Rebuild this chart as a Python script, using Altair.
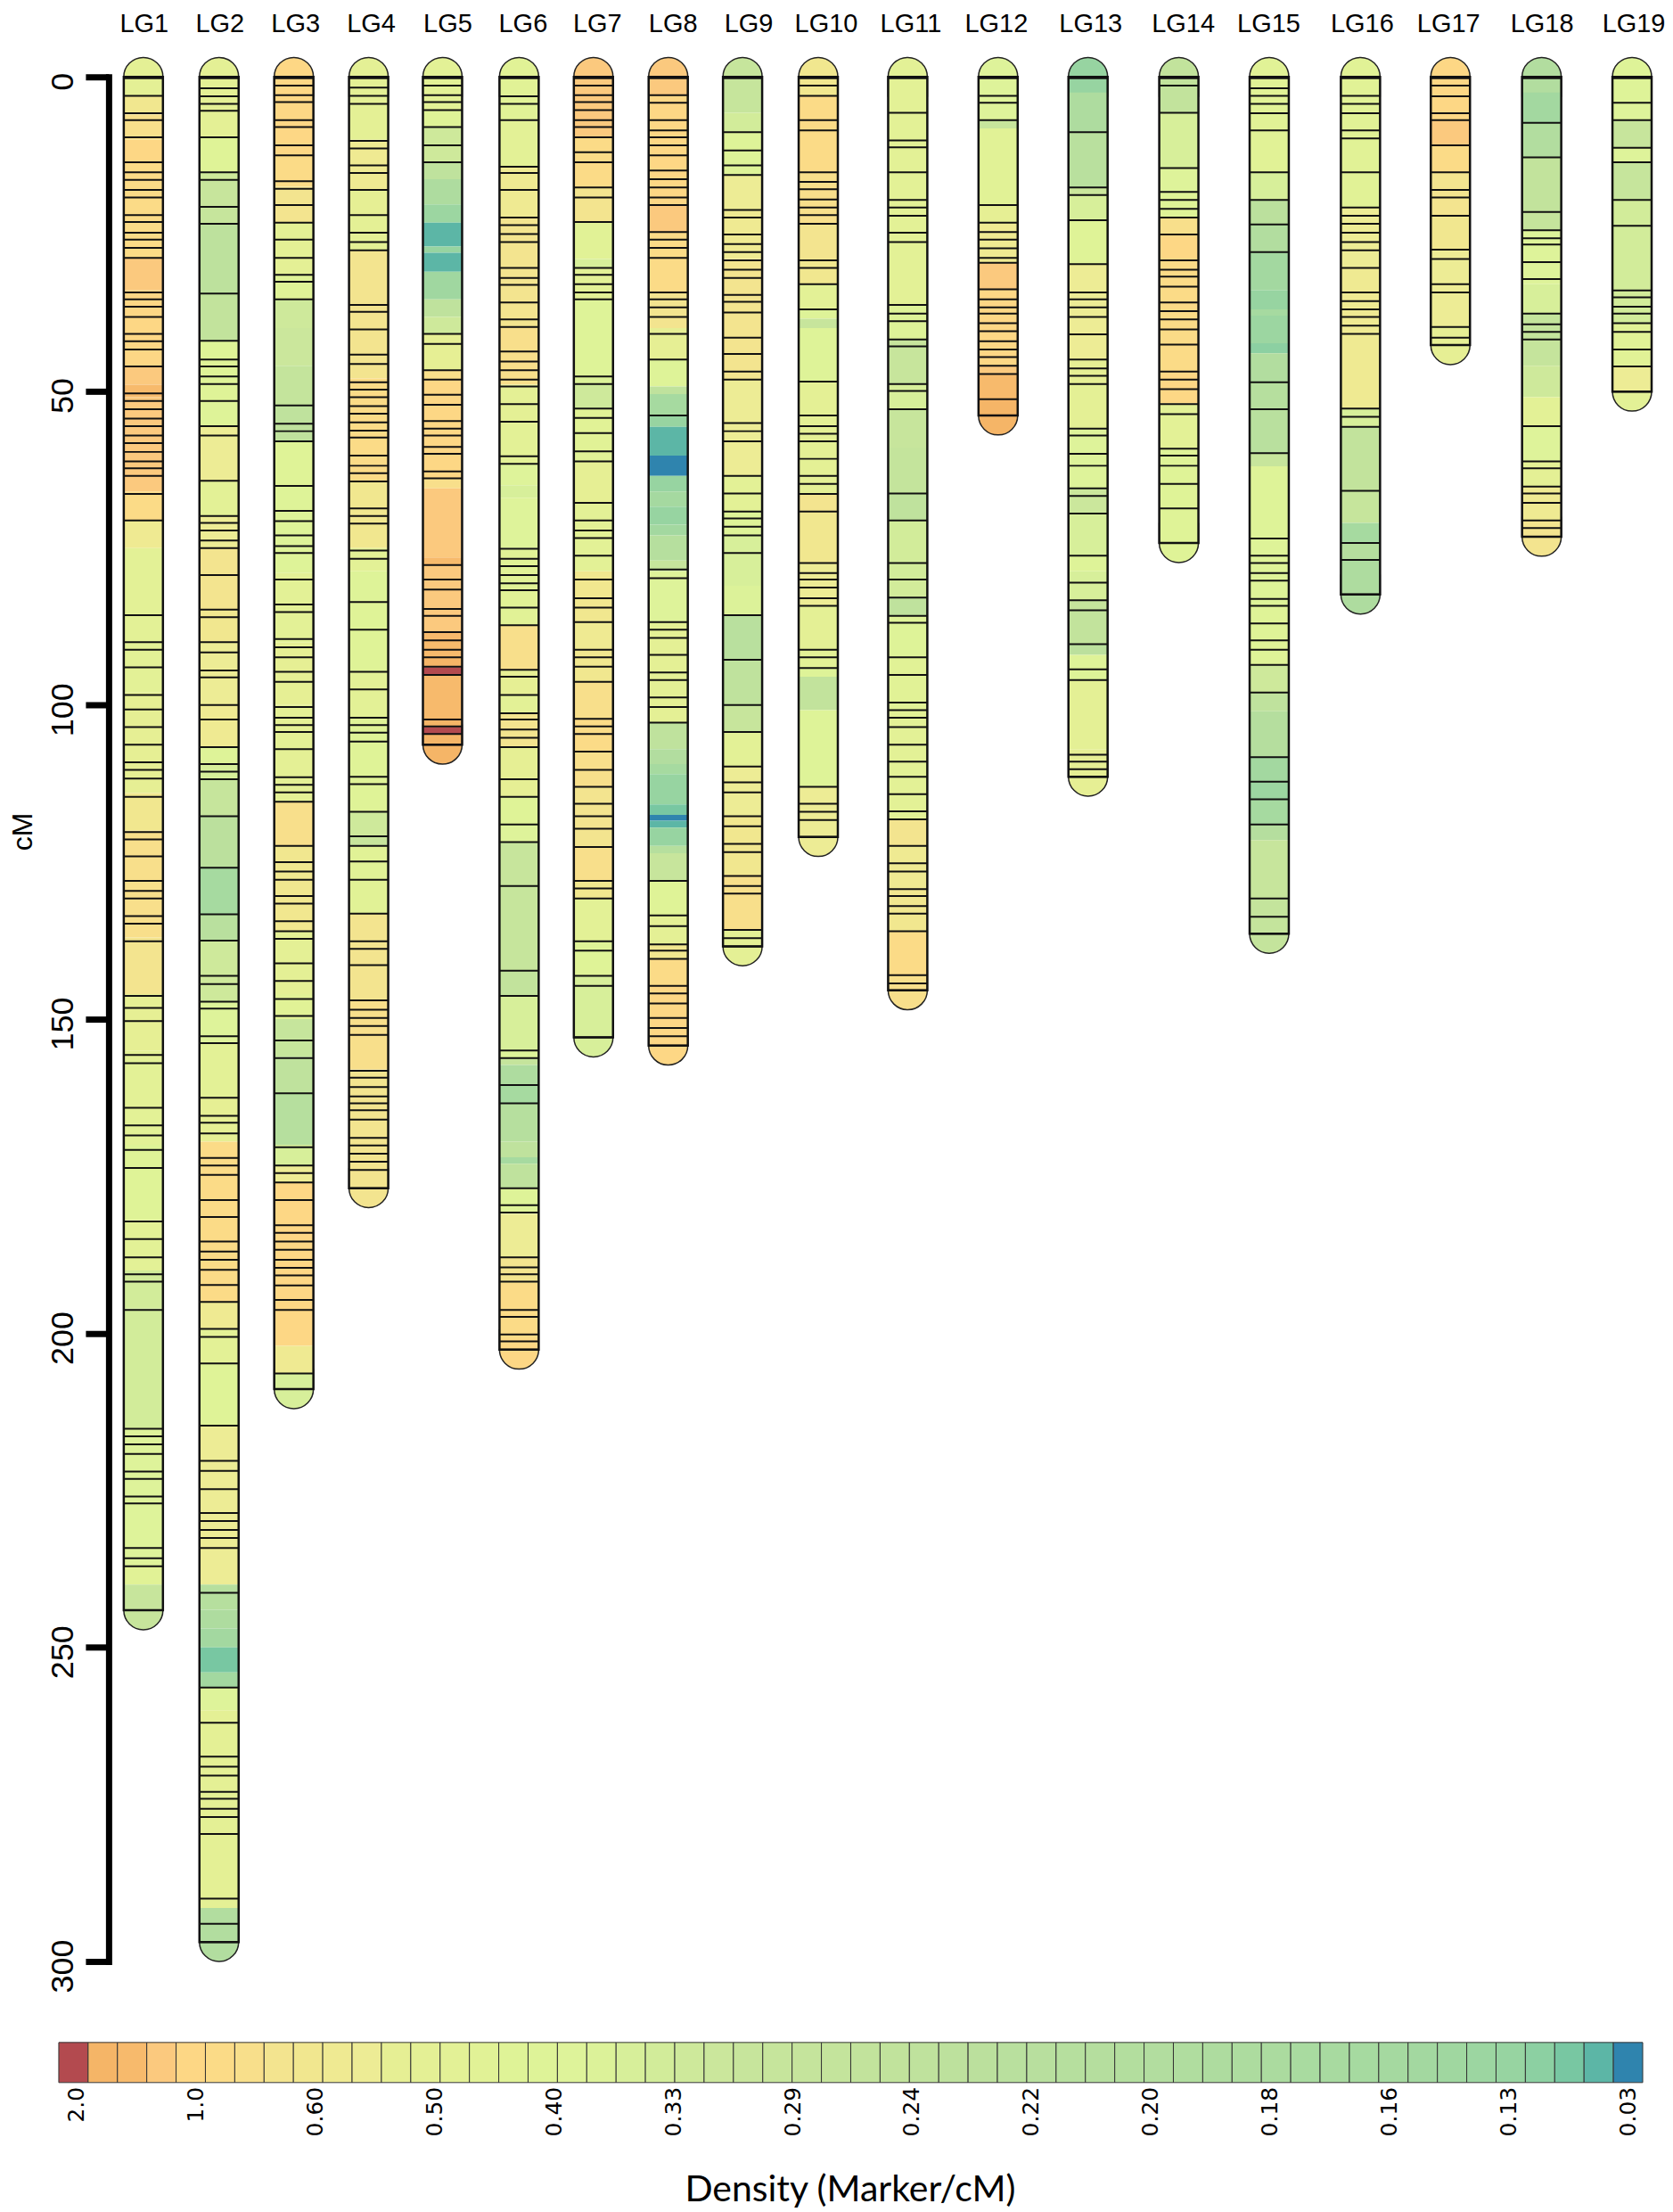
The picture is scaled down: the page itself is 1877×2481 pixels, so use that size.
import altair as alt
import pandas as pd

LG_NAMES = ["LG%d" % i for i in range(1, 20)]

MARKERS = {
 1: [0.2,3.0,5.8,6.9,9.6,13.6,15.2,16.4,18.0,19.2,22.0,23.1,24.8,25.9,27.2,28.8,34.3,35.4,36.6,38.2,40.9,42.1,43.4,46.1,50.4,51.6,52.9,54.4,55.6,57.1,58.3,59.7,61.2,62.3,63.5,66.4,70.6,85.7,90,91.2,94,98.4,100.7,103.5,106.3,109.1,110.3,111.7,114.6,120.2,121.4,124.1,128,129.6,130.8,133.6,134.8,137.6,146.3,148.2,150.3,155.7,157,164.1,166.9,168.5,170.8,173.7,182.2,185,187.9,190.6,191.8,196.3,215.2,216.4,217.7,219.2,222,223.2,226,227.1,234.2,235.8,237.1,244.1],
 2: [0.2,1.8,3.1,4.3,5.4,9.6,15.2,16.4,20.7,23.4,34.5,42,45,46.1,47.7,48.9,51.6,55.6,57.1,64.3,69.9,71,72.2,73.8,75,79.3,84.8,86,90,91.6,94.5,95.6,100,102.3,106.7,109.4,110.6,111.8,117.7,125.9,133.3,137.5,143.1,144.4,147.2,148.3,152.7,153.8,162.5,165.4,166.5,168.2,172.1,173.3,174.8,178.8,181.5,185.4,187,188.3,189.9,192.3,195,199.3,200.6,204.8,214.7,220.3,221.9,224.8,228.6,229.9,231.3,232.6,234.2,241.3,256.4,262,267.4,269,270.4,273,274.1,275.7,277,279.7,290,294,296.9],
 3: [0.2,1.4,2.9,4,6.9,8,10.9,12.5,16.6,17.8,20.4,23.2,25.9,28.8,31.5,32.6,35.4,52.3,55.2,56.4,58,65.1,69.1,70.7,73,74.7,75.8,80,84,85.2,89.5,90.8,92.4,94.7,96.3,100.3,102,103.2,104.3,107,111.5,112.7,113.9,115.4,122.4,125,126.5,127.8,130.4,131.6,134.4,136,137.2,141.1,143.9,146.8,149.5,153.4,156.2,161.8,170.4,173.3,174.5,176,178.8,182.8,184,185.4,186.7,188.3,189.6,190.8,192.4,194.7,196.3,206.4,208.9],
 4: [0.2,1.7,3,4.3,10.2,11.4,14.1,15.3,18,22,24.8,26.3,27.6,36.3,37.4,40.2,44.2,45.7,48.6,49.8,51,52.4,53.6,55,56.3,57.4,60.3,61.9,63.1,64.4,68.7,69.9,71.1,75.4,76.7,83.6,88,94.7,97.5,102,103.2,104.4,105.8,111.4,112.6,117,120.9,122.4,124.9,127.8,133.2,137.6,138.8,141.4,147,148.5,149.8,151.1,152.5,158.2,159.3,160.8,162.3,163.4,164.5,166,168.9,170.1,171.4,172.7,174,176.9],
 5: [0.2,1.4,2.9,4,5.3,8,10.9,13.6,40.9,42.5,46.7,48.2,50.6,52.2,54.8,56,57.1,58.9,60,62.8,63.9,77.7,80,81.6,84.7,85.8,88.4,89.7,91.2,92.4,93.9,95.2,102.3,103.4,104.6,106.3],
 6: [0.2,3.1,4.3,6.9,14.3,15.3,18,22.4,23.6,25,26.3,30.4,32,33.1,35.9,38.6,39.8,43.7,45.3,46.7,48.2,49.3,52.1,54.9,60.4,61.6,75.1,76.7,77.9,79.3,80.6,81.7,84.5,87.3,94.4,95.5,98.4,101.3,102.3,103.9,105.2,106.7,111.8,114.6,119,121.8,128.8,142.3,146.3,155,156.2,160.5,163.4,176.9,179.6,180.8,187.9,189.5,190.6,191.8,196.3,197.4,200.2,201.3,202.6],
 7: [0.2,1.4,2.9,4,5.3,6.9,8,9.6,12,13.6,17.6,19.2,23.1,30.4,31.5,33,34.3,35.4,47.7,48.9,52.8,54.3,56.7,59.6,61.2,67.8,70.6,72.2,73.4,76.2,80,83,84.5,86.8,91.2,92.4,93.9,96.3,102.2,103.4,104.6,107.4,110.3,113,115.7,117.7,119.7,122.6,128,129.2,130.8,137.6,139.1,143.1,144.7,152.9],
 8: [0.2,2.9,4.1,6.9,8.5,9.6,10.9,12.5,14.9,16.3,17.6,19.2,20.4,24.7,25.9,27.2,28.8,34.3,35.4,36.7,38.2,40.9,45,53.9,78.4,79.8,86.8,88,89.3,92,94.8,96,98.8,100.3,102.8,128,133.5,135.2,138.1,139.1,140.4,144.7,145.9,147.5,149.8,151.4,152.7,154.2],
 9: [0.2,8.8,11.7,14.1,15.6,21.2,22.4,25.1,26.6,27.9,29.2,30.7,32,34.7,35.8,37.5,41.5,44.1,46.9,48.2,55.1,56.4,58,63.5,66.3,69.2,70.3,71.6,73,75.8,85.7,92.8,100,104.3,109.8,112.3,113.9,117.7,119.3,122.1,123.4,127.2,128.8,130,135.8,137.1,138.4],
 10: [0.2,1.4,3,6.9,8.5,15.2,16.7,17.9,19.5,20.8,22,23.4,29.2,30.4,33,37,48.5,53.9,55.6,56.8,58,60.8,63.5,64.8,66.4,69.2,77.4,79,80,81.3,83,84.2,91.2,92.4,94.1,113,115.7,117,118.3,121],
 11: [0.2,5.7,10.1,11.2,15.2,19.6,20.8,22.1,24.8,26.3,36.3,37.7,38.9,41.8,42.9,48.9,50,52.9,66.3,70.6,77.4,80,82.9,85.8,86.9,92.4,95.2,99.6,100.8,102,103.5,106.3,109,111.4,114.2,116.9,118.2,122.4,125.2,126.5,129.3,130.4,132,133.2,136,143,144.3,145.4],
 12: [0.2,3,4.1,6.9,20.4,23.2,24.7,25.9,27.3,28.8,29.6,33.8,35.4,36.7,37.7,39.2,40.5,42.1,43.4,44.6,46,47.3,51.3,53.9],
 13: [0.2,8.8,17.6,18.8,22.8,29.8,34.3,35.4,36.7,38.2,41,45,46.4,47.6,48.9,56,57.1,60,61.9,65.5,66.7,69.5,76.2,80.5,83.3,84.9,90.3,94.3,96,107.9,109,110.2,111.4],
 14: [0.2,1.4,5.7,14.5,18.3,19.6,21,22.4,25.1,29.2,30.7,31.8,33.4,35.9,37.3,38.6,40.2,42.6,46.9,48.2,49.7,52.1,53.7,59.2,60.3,61.9,64.8,68.7,74.2],
 15: [0.2,1.8,3,4.3,5.8,8.5,15.2,19.6,23.5,27.9,48.6,52.9,59.9,73.5,76.2,77.4,79,80.2,83.1,84.2,87,89.7,91.2,93.6,98,108.3,112.2,115,119,130.8,133.7,136.4],
 16: [0.2,3,4.3,5.8,8.5,9.8,15.2,20.8,22.1,23.4,24.8,26.3,27.6,30.4,34.3,35.7,37,38.2,39.6,40.9,52.8,54.1,55.7,65.9,74.2,76.9,82.4],
 17: [0.2,1.4,3.1,5.8,6.9,10.9,15.2,18,19.2,22.1,27.5,29,33,34.3,39.8,41.5,42.7],
 18: [0.2,7.3,12.8,21.5,24.4,25.7,26.7,29.5,32.2,37.7,39.4,40.6,41.8,55.6,61.2,62.3,65.2,66.3,67.8,70.6,71.8,73.2],
 19: [0.2,4.1,6.9,11.3,13.6,19.6,23.7,34,35.1,36.6,37.7,39.2,40.6,43.4,46.1,50.1],
}

# density zones: start cM of each zone, and the legend step it falls in
ZONE_START = {
 1: [0,3,6,10,13.6,28.8,34,46,49,51,66,70.6,75,98,114,120,137,146,155,170,182,190,196,215,237,240],
 2: [0,9.6,15.2,16.4,20.7,23.4,34.5,42,51.6,55.6,64.3,69.9,75,84.8,90,100,106.7,109.4,111.8,117.7,125.9,133.3,137.5,147.2,153.8,162.5,169.5,195,199.3,204.8,214.7,240,244,247,250,254,256.4,260,291.5],
 3: [0,12.5,17.5,23.2,31.5,35.4,40,46,52.3,58,65,79,90,100,115.4,122.4,136,146,150,156,161.8,170,173.3,176,202,206.4],
 4: [0,10,18,22,27.6,48,64.4,75,78.7,83.6,94.7,102,117,121,122.4,133.2,147,158],
 5: [0,5.3,8,13.6,16.3,20.3,23.2,27,28,31,35.4,38.2,40.9,46.7,48.2,63.9,65.5,76.5,77.7,88.4,92.5,94,95.2,102,103.5,104.6],
 6: [0,7,14.3,22.4,40,49,55,61.6,65,67,75,87.3,94.4,98.4,101.3,106.7,114.6,119,121.8,128.8,142.3,146.3,155,156.2,157.3,160.5,163.4,169.5,172,173,176.9,181,187.9,192,201],
 7: [0,9.6,17.6,23.1,29,30.4,35.4,47.7,48.9,52.8,61.2,67.8,78.7,86.8,91.2,96.3,102.2,107.4,113,122.6,128,130.8,137.6,143.1],
 8: [0,2.9,20.4,24.7,34.3,40,45,49.3,50.5,53.9,55.7,60.3,63.5,66,68.4,71.3,73,77,78.7,86.8,102.8,107,109.4,111,115.8,117.5,118.4,119.5,122.4,123.6,128,133.5,138.1,140.4,144.7],
 9: [0,5.7,8.8,15.6,21.2,29,48.2,63.5,69.2,73,81,85.7,92.8,100,104.3,109.8,117.7,127,135.8],
 10: [0,3,15.2,23.4,29.2,33,37,38.5,40,48.5,66.4,69.2,77.4,84.2,91.2,94.1,95.5,100.8,113],
 11: [0,36.3,41.8,48.9,52.9,59,66.3,70.6,82.9,85.8,92.4,100.8,118.2,122.4,129.3,136,143],
 12: [0,6.9,8.2,20.4,23.2,29.6,33.8,46,47.3,51.3],
 13: [0,2.5,8.8,17.6,18.8,22.8,29.8,45,48.9,56,65.5,69.5,76.2,78.7,83.3,84.9,90.3,92,96,107],
 14: [0,5.7,14.5,18.3,22.4,25.1,29.2,46.9,52,59.2],
 15: [0,15.2,19.6,23.5,27.9,34,37,38,42.4,44,48.6,52.9,59.9,62,84,93.6,98,101,108.3,112.2,115,119,121.5,130.8],
 16: [0,20.8,30.4,52.8,55.7,65.9,71,74.2,76.9],
 17: [0,6.9,10.9,15.2,22.1,27.5,39.8],
 18: [0,2.5,7.3,12.8,21.5,24.4,33,37.7,41.8,46,51,55.6,61.2,65.2,70.6],
 19: [0,4.1,6.9,11.3,13.6,19.6,39.2,46.1,50.1],
}
ZONE_STEP = {
 1: [13,9,7,5,6,4,5,4,3,4,6,10,14,12,9,7,8,12,14,16,14,21,21,18,15,24],
 2: [13,16,22,24,25,31,28,16,17,11,14,11,8,9,11,10,17,20,25,32,45,33,22,18,14,12,6,10,14,16,11,35,40,47,52,47,18,13,38],
 3: [5,6,8,13,16,22,23,27,30,16,17,14,12,13,7,9,13,15,25,30,35,20,11,5,10,20],
 4: [13,10,12,13,8,6,9,14,17,16,14,16,22,24,15,8,7,8],
 5: [14,16,22,30,40,49,53,50,53,48,30,22,12,7,5,7,4,3,4,3,2,1,3,2,1,2],
 6: [15,14,10,8,7,13,14,18,20,18,15,7,12,14,8,12,16,18,24,25,28,20,18,26,40,45,35,30,45,30,17,11,8,6,5],
 7: [4,6,8,15,20,14,17,19,22,15,12,14,9,10,9,7,6,7,8,7,9,14,16,20],
 8: [4,5,4,6,8,12,17,30,45,50,53,54,50,46,50,47,35,25,18,13,30,38,45,50,52,54,53,50,35,24,16,13,9,6,5],
 9: [25,21,17,11,10,8,11,14,17,20,19,33,30,24,14,11,9,7,13],
 10: [9,6,7,8,9,14,17,24,17,13,8,9,11,13,14,17,28,17,11],
 11: [14,17,24,20,24,27,30,21,30,17,15,14,8,10,9,6,7],
 12: [18,24,15,12,10,4,5,4,3,2],
 13: [50,40,33,23,20,16,11,12,13,18,23,20,17,20,25,28,32,17,13,12],
 14: [28,20,18,16,7,5,6,5,14,16],
 15: [15,20,32,38,47,50,45,49,51,38,35,33,24,17,16,22,30,36,47,49,45,36,24,27],
 16: [15,11,10,20,28,25,45,36,40],
 17: [5,4,6,8,9,11,12],
 18: [38,47,38,28,26,18,20,27,26,22,14,18,13,10,8],
 19: [17,18,24,18,25,21,15,11,14],
}
CAP_CM = 3.1

AXIS_TICKS = [0, 50, 100, 150, 200, 250, 300]
LEGEND_LABELS = ["2.0","1.0","0.60","0.50","0.40","0.33","0.29","0.24","0.22","0.20","0.18","0.16","0.13","0.03"]
PALETTE = ["#B34A4F","#F5B567","#F7BA6C","#FBC97E","#FDD785","#FBDB87","#F8DF8B","#F3E48F","#F1E78F","#EFEA92",
 "#EDEC95","#E6EF94","#E4F095","#E3F196","#E1F296","#DFF397","#DEF398","#DEF39A","#DCF299","#D7EF9A",
 "#D2EC9A","#CEE99B","#CBE79C","#C7E59C","#C6E59C","#C5E49C","#C4E49C","#C2E39C","#C1E39C","#BFE29D",
 "#BDE19D","#BBE09D","#B9E09E","#B8DF9E","#B6DF9E","#B5DE9E","#B3DE9E","#B2DD9F","#B0DD9F","#AEDC9F",
 "#ADDC9F","#ABDB9F","#A9DBA0","#A8DAA0","#A6DAA0","#A5D9A0","#A3D8A0","#A0D7A0","#9CD6A1","#97D4A1",
 "#8CD0A2","#78C7A2","#5CB6A6","#2F84AE"]

# layout (group pixels)
BAR_X = [153,238,322,406,489,575,658.5,742.5,826,911,1011.5,1113,1214,1316,1417.5,1520,1621,1723.5,1825]
LABEL_X = [154,239,324,409,495,579.5,663,748,833,920,1015,1111,1217,1321,1417,1522,1619,1724,1827]
SLOTS = list(range(1, 20))

x_bar = alt.Scale(domain=SLOTS, range=BAR_X, nice=False, zero=False, padding=0)
x_lab = alt.Scale(domain=SLOTS, range=LABEL_X, nice=False, zero=False, padding=0)
y_scale = alt.Scale(domain=[0, 300], range=[77, 2193], nice=False, zero=False, padding=0)
band_scale = alt.Scale(domain=list(range(1, 55)), range=PALETTE)

lengths = {k: MARKERS[k][-1] for k in MARKERS}
seg_rows, cap_rows, mark_rows, out_rows = [], [], [], []
for k in SLOTS:
    st = ZONE_START[k]
    bd = ZONE_STEP[k]
    ends = st[1:] + [lengths[k]]
    for a, b, s in zip(st, ends, bd):
        seg_rows.append(dict(n=k, a=a, b=b, step=s))
    cap_rows.append(dict(n=k, a=-CAP_CM, b=CAP_CM, step=bd[0], end="top"))
    cap_rows.append(dict(n=k, a=lengths[k] - CAP_CM, b=lengths[k] + CAP_CM, step=bd[-1], end="bottom"))
    out_rows.append(dict(n=k, a=0, b=lengths[k]))
    for m in MARKERS[k]:
        mark_rows.append(dict(n=k, cM=m))
seg_df = pd.DataFrame(seg_rows)
cap_df = pd.DataFrame(cap_rows)
out_df = pd.DataFrame(out_rows)
mark_df = pd.DataFrame(mark_rows)
lab_df = pd.DataFrame(dict(n=SLOTS, name=LG_NAMES))

y_axis = alt.Axis(values=AXIS_TICKS, offset=-114, title="cM", grid=False,
                  domainColor="black", domainWidth=7, domainCap="square",
                  tickColor="black", tickWidth=7, tickSize=26,
                  labelFont="Liberation Sans", labelFontSize=36, labelColor="black",
                  labelAngle=270, labelPadding=6, labelOffset=5, labelOverlap=False,
                  titleFont="Liberation Sans", titleFontSize=32, titleFontWeight="normal", titleColor="black",
                  titleAngle=270, titleX=-96, titleY=924, titleAlign="center", titleBaseline="middle")

X = alt.X("n:Q", scale=x_bar, axis=None)
C = alt.Color("step:O", scale=band_scale, legend=None)
Y = alt.Y("a:Q", scale=y_scale, axis=y_axis)

top_caps = alt.Chart(cap_df[cap_df["end"] == "top"]).mark_bar(
    size=44, orient="vertical", stroke="#222", strokeWidth=1.5,
    cornerRadiusTopLeft=22, cornerRadiusTopRight=22).encode(x=X, y=Y, y2="b:Q", color=C)
bot_caps = alt.Chart(cap_df[cap_df["end"] == "bottom"]).mark_bar(
    size=44, orient="vertical", stroke="#222", strokeWidth=1.5,
    cornerRadiusBottomLeft=22, cornerRadiusBottomRight=22).encode(x=X, y=Y, y2="b:Q", color=C)
segs = alt.Chart(seg_df).mark_bar(size=44, orient="vertical").encode(x=X, y=Y, y2="b:Q", color=C)
outline = alt.Chart(out_df).mark_bar(size=44, orient="vertical", fillOpacity=0, stroke="#111", strokeWidth=2.5).encode(
    x=X, y=Y, y2="b:Q")
ticks = alt.Chart(mark_df).mark_tick(size=44, thickness=2, color="#111", orient="horizontal", opacity=1).encode(
    x=X, y=alt.Y("cM:Q", scale=y_scale, axis=y_axis))
labels = alt.Chart(lab_df).mark_text(font="Liberation Sans", fontSize=29, color="black", baseline="alphabetic", align="center").encode(
    x=alt.X("n:Q", scale=x_lab, axis=None), y=alt.value(27), text="name:N")

main = alt.layer(top_caps, bot_caps, segs, outline, ticks, labels).resolve_scale(x="independent").properties(
    width=1861, height=2276)

# density legend
leg_df = pd.DataFrame(dict(i=list(range(54)), j=list(range(1, 55)), step=list(range(1, 55))))
x_leg = alt.Scale(domain=[0, 54], range=[58, 1837], nice=False, zero=False, padding=0)
cells = alt.Chart(leg_df).mark_rect(stroke="#333", strokeWidth=1).encode(
    x=alt.X("i:Q", scale=x_leg, axis=None), x2="j:Q", y=alt.value(8), y2=alt.value(53), color=C)
leg_text = alt.Chart(pd.DataFrame(dict(t=LEGEND_LABELS))).mark_text(
    angle=270, align="right", baseline="middle", font="DejaVu Sans", fontSize=25, color="black").encode(
    x=alt.X("t:N", sort=None, scale=alt.Scale(type="point", range=[78, 1821], padding=0), axis=None),
    y=alt.value(58), text="t:N")
leg_title = alt.Chart(pd.DataFrame(dict(t=["Density (Marker/cM)"]))).mark_text(
    font="Lato", fontSize=41, color="black", align="center", baseline="alphabetic").encode(
    x=alt.value(947), y=alt.value(186), text="t:N")
legend = alt.layer(cells, leg_text, leg_title).resolve_scale(x="independent").properties(width=1861, height=53)

chart = alt.vconcat(main, legend, spacing=0).properties(padding=0).configure_view(stroke=None)
chart.save("out.html", embed_options={"renderer": "svg", "actions": False})
